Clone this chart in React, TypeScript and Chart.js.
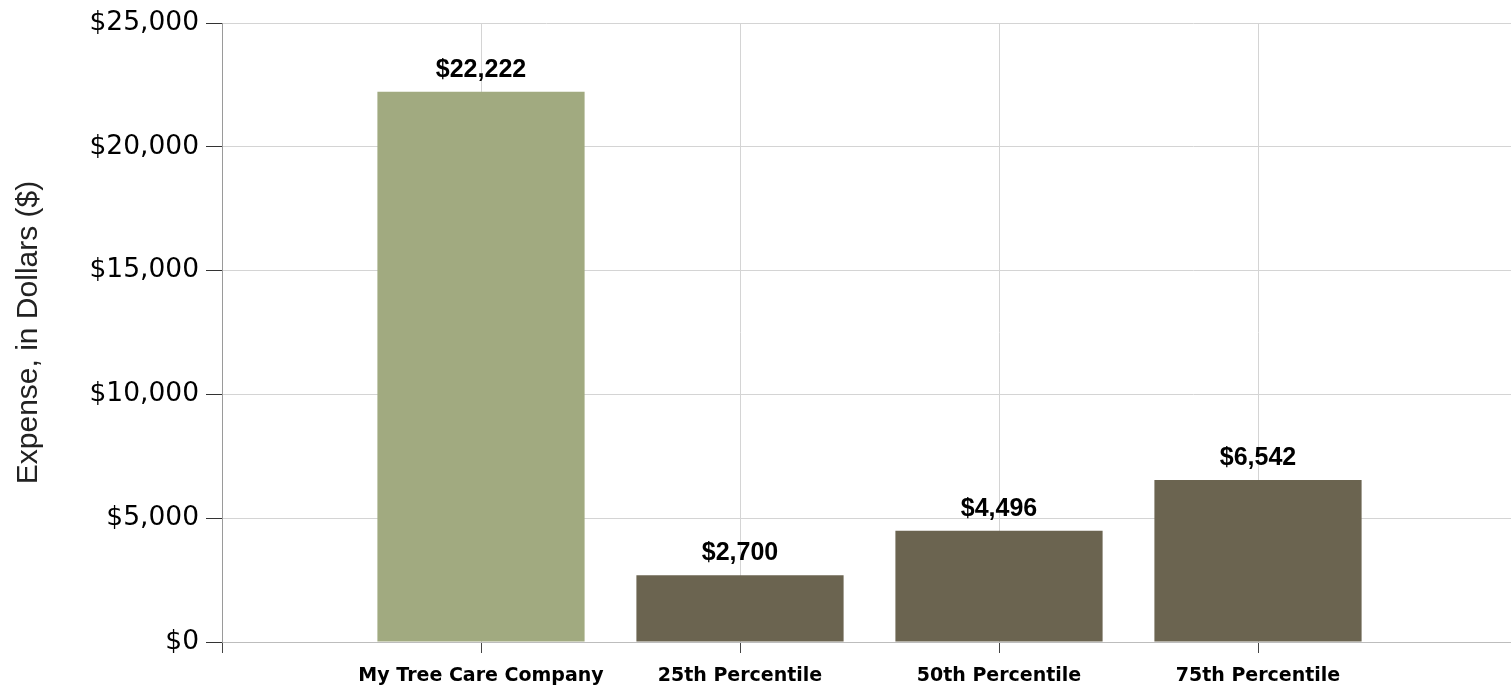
import React, { useEffect, useRef } from "react";
import { Chart, registerables } from "chart.js";

Chart.register(...registerables);

const categories = ["", "My Tree Care Company", "25th Percentile", "50th Percentile", "75th Percentile", ""];
const expenseValues: (number | null)[] = [null, 22222, 2700, 4496, 6542, null];
const barColors = ["#a1aa80", "#a1aa80", "#6b6450", "#6b6450", "#6b6450", "#6b6450"];
const yTicks = [0, 5000, 10000, 15000, 20000, 25000];
const yTitle = "Expense, in Dollars ($)";

const fmt = (v: number) => "$" + v.toLocaleString("en-US");

const valueLabels = {
  id: "valueLabels",
  afterDatasetsDraw(chart: any) {
    const ctx = chart.ctx;
    const meta = chart.getDatasetMeta(0);
    ctx.save();
    ctx.font = "bold 25px 'Liberation Sans', Arial, sans-serif";
    ctx.fillStyle = "#000";
    ctx.textAlign = "center";
    ctx.textBaseline = "middle";
    meta.data.forEach((bar: any, i: number) => {
      const v = expenseValues[i];
      if (v == null) return;
      ctx.fillText(fmt(v), bar.x, bar.y - 22);
    });
    ctx.restore();
  },
};

export default function App() {
  const ref = useRef<HTMLCanvasElement | null>(null);
  useEffect(() => {
    if (!ref.current) return;
    const chart = new Chart(ref.current, {
      type: "bar",
      data: {
        labels: categories,
        datasets: [
          {
            data: expenseValues,
            backgroundColor: barColors,
            barPercentage: 1,
            categoryPercentage: 0.8,
          },
        ],
      },
      options: {
        animation: false,
        responsive: true,
        maintainAspectRatio: false,
        layout: { padding: { top: 23, right: 0, left: 0, bottom: 0 } },
        plugins: { legend: { display: false }, tooltip: { enabled: false } },
        scales: {
          x: {
            type: "category",
            offset: false,
            grid: {
              offset: false,
              color: "#d4d4d4",
              tickColor: "#444",
              tickLength: 11,
              drawTicks: true,
            },
            border: { color: "#bdbdbd" },
            ticks: {
              color: "#000",
              padding: 12,
              maxRotation: 0,
              autoSkip: false,
              font: { family: "'DejaVu Sans'", size: 19, weight: "bold" },
            },
            afterFit: (s: any) => {
              s.height = 48;
              s.paddingLeft = 0;
              s.paddingRight = 0;
            },
          },
          y: {
            min: 0,
            max: 25000,
            afterBuildTicks: (s: any) => {
              s.ticks = yTicks.map((v) => ({ value: v }));
            },
            grid: { color: "#d4d4d4", tickColor: "#333", tickLength: 16 },
            border: { color: "#9a9a9a" },
            ticks: {
              color: "#000",
              padding: 7,
              font: { family: "'DejaVu Sans'", size: 26.5 },
              callback: (v: any) => fmt(Number(v)),
            },
            title: {
              display: true,
              text: yTitle,
              color: "#222",
              font: { family: "'Liberation Sans', Arial", size: 30 },
              padding: { top: 11, bottom: 0 },
            },
            afterFit: (s: any) => {
              s.width = 222;
            },
          },
        },
      },
      plugins: [valueLabels],
    });
    return () => chart.destroy();
  }, []);
  return (
    <div style={{ position: "fixed", left: 0, top: 0, width: 1517, height: 690, background: "#fff" }}>
      <canvas ref={ref} />
    </div>
  );
}
